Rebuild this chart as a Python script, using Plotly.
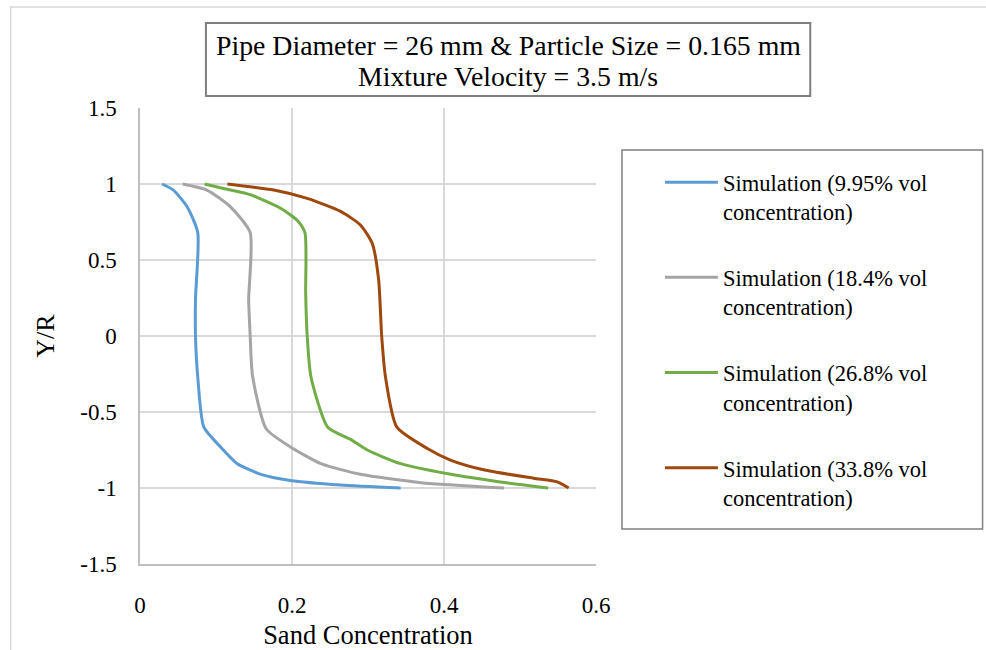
import plotly.graph_objects as go

# ---- data ----
names = [
    "Simulation (9.95% vol<br>concentration)",
    "Simulation (18.4% vol<br>concentration)",
    "Simulation (26.8% vol<br>concentration)",
    "Simulation (33.8% vol<br>concentration)",
]
colors = ["#5B9BD5", "#A5A5A5", "#70AD47", "#9E480E"]

y_s1 = [1.0, 0.96, 0.85, 0.68, 0.24, 0.0, -0.27, -0.60, -0.73, -0.84, -0.91, -0.95, -0.98, -1.0]
x_s1 = [0.029, 0.044, 0.062, 0.076, 0.073, 0.073, 0.076, 0.084, 0.106, 0.128, 0.159, 0.198, 0.264, 0.343]

y_s2 = [1.0, 0.96, 0.85, 0.68, 0.24, 0.0, -0.26, -0.61, -0.73, -0.84, -0.91, -0.965, -1.0]
x_s2 = [0.056, 0.088, 0.119, 0.145, 0.143, 0.145, 0.148, 0.166, 0.198, 0.238, 0.29, 0.37, 0.479]

y_s3 = [1.0, 0.97, 0.93, 0.84, 0.76, 0.68, 0.28, 0.0, -0.27, -0.60, -0.68, -0.75, -0.84, -0.91, -0.96, -1.0]
x_s3 = [0.085, 0.110, 0.145, 0.185, 0.207, 0.217, 0.218, 0.220, 0.225, 0.247, 0.277, 0.299, 0.343, 0.409, 0.474, 0.537]

y_s4 = [1.0, 0.96, 0.905, 0.82, 0.73, 0.61, 0.37, 0.0, -0.27, -0.60, -0.74, -0.816, -0.88, -0.936, -0.96, -1.0]
x_s4 = [0.115, 0.176, 0.22, 0.264, 0.29, 0.3055, 0.314, 0.318, 0.323, 0.338, 0.378, 0.4085, 0.452, 0.518, 0.549, 0.564]

xs = [x_s1, x_s2, x_s3, x_s4]
ys = [y_s1, y_s2, y_s3, y_s4]

x_ticks = [0, 0.2, 0.4, 0.6]
y_ticks = [-1.5, -1, -0.5, 0, 0.5, 1, 1.5]
title_line1 = "Pipe Diameter = 26 mm & Particle Size = 0.165 mm"
title_line2 = "Mixture Velocity = 3.5 m/s"
x_title = "Sand Concentration"
y_title = "Y/R"

# ---- layout geometry (pixels) ----
W, H = 986, 650
L, R, T, B = 139.5, 596.0, 108.0, 564.0
PW, PH = R - L, B - T


def px(x):
    return (x - L) / PW


def py(y):
    return (B - y) / PH


FONT = "Liberation Serif"

fig = go.Figure()
for i in range(4):
    fig.add_trace(go.Scatter(
        x=xs[i], y=ys[i], mode="lines", name=names[i],
        line=dict(color=colors[i], width=3, shape="spline", smoothing=0.6),
        legendgroup=f"g{i}",
    ))

fig.update_layout(
    width=W, height=H,
    margin=dict(l=L, r=W - R, t=T, b=H - B, pad=0),
    paper_bgcolor="white", plot_bgcolor="white",
    font=dict(family=FONT, color="black"),
    showlegend=True,
    legend=dict(
        x=px(660), y=py(161), xanchor="left", yanchor="top",
        bgcolor="rgba(0,0,0,0)", borderwidth=0,
        font=dict(family=FONT, size=22.5, color="black"),
        tracegroupgap=33.7, traceorder="grouped", valign="top",
        itemwidth=53,
    ),
    xaxis=dict(
        range=[0, 0.6], tickvals=x_ticks, ticktext=["0", "0.2", "0.4", "0.6"],
        showgrid=True, gridcolor="#D9D9D9", gridwidth=1.5,
        showline=True, linecolor="#BFBFBF", linewidth=1.5,
        zeroline=False, ticks="", ticklabelstandoff=20, automargin=False,
        tickfont=dict(family=FONT, size=23, color="black"),
        title=dict(text=x_title, font=dict(family=FONT, size=26.5, color="black"), standoff=8),
    ),
    yaxis=dict(
        range=[-1.5, 1.5], tickvals=y_ticks, ticktext=["-1.5", "-1", "-0.5", "0", "0.5", "1", "1.5"],
        showgrid=True, gridcolor="#D9D9D9", gridwidth=1.5,
        showline=True, linecolor="#BFBFBF", linewidth=1.5,
        zeroline=False, ticks="", ticklabelstandoff=17, automargin=False,
        tickfont=dict(family=FONT, size=23, color="black"),
        title=dict(text=y_title, font=dict(family=FONT, size=26, color="black"), standoff=18),
    ),
    shapes=[
        # outer chart border
        dict(type="rect", xref="paper", yref="paper", x0=px(10), y0=py(7), x1=px(1000), y1=py(665),
             line=dict(color="#D9D9D9", width=1.5), layer="below"),
        # title box
        dict(type="rect", xref="paper", yref="paper", x0=px(205.5), y0=py(23), x1=px(810.5), y1=py(96),
             line=dict(color="#7F7F7F", width=2), fillcolor="white"),
        # legend box
        dict(type="rect", xref="paper", yref="paper", x0=px(622), y0=py(150), x1=px(983), y1=py(529),
             line=dict(color="#7F7F7F", width=1.5)),
    ],
    annotations=[
        dict(text=title_line1, xref="paper", yref="paper", x=px(508), y=py(45), xanchor="center", yanchor="middle",
             showarrow=False, font=dict(family=FONT, size=27.8, color="black")),
        dict(text=title_line2, xref="paper", yref="paper", x=px(508), y=py(76), xanchor="center", yanchor="middle",
             showarrow=False, font=dict(family=FONT, size=27.8, color="black")),
    ],
)

fig.write_html("out.html")
